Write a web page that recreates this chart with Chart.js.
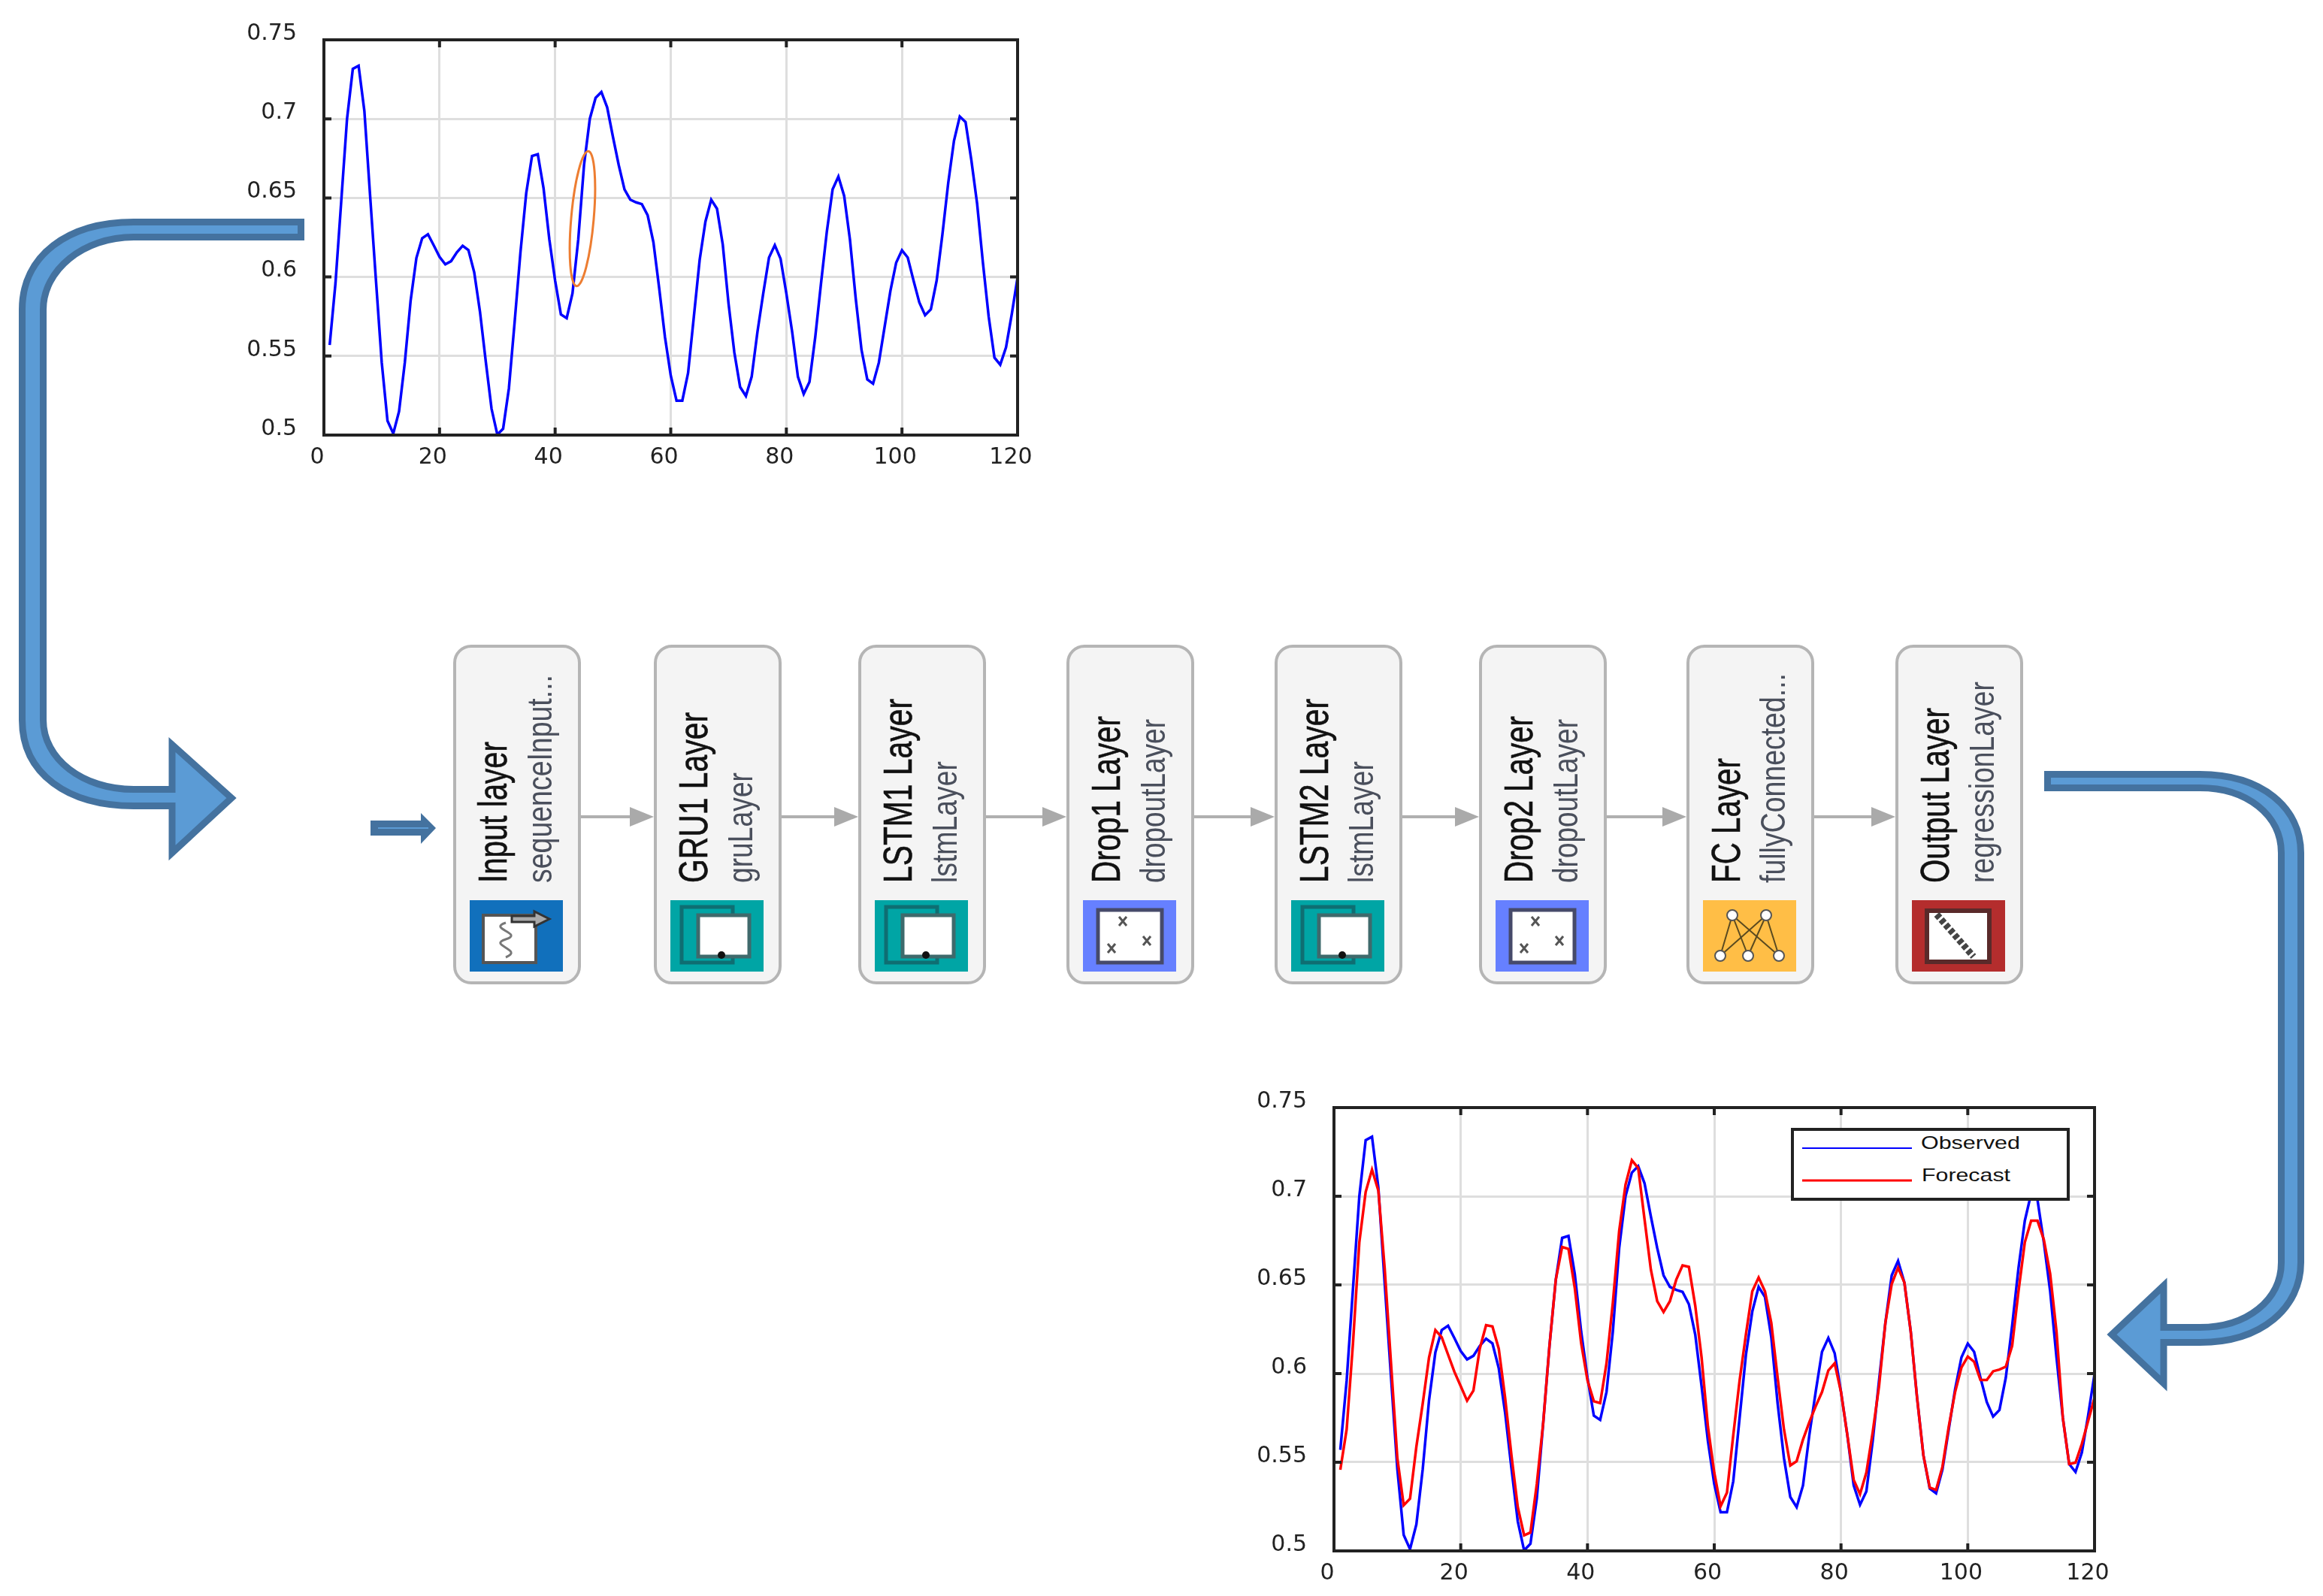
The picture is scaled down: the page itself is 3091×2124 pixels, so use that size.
<!DOCTYPE html>
<html>
<head>
<meta charset="utf-8">
<title>GRU-LSTM forecast</title>
<script src="https://cdn.jsdelivr.net/npm/chart.js@4"></script>
<style>
  html, body { margin: 0; padding: 0; background: #fff; }
  body { position: relative; width: 3091px; height: 2124px; overflow: hidden; }
  canvas { position: absolute; }
  #chartTop { left: 300px; top: 10px; }
  #chartBottom { left: 1640px; top: 1440px; }
  #overlay { position: absolute; left: 0; top: 0; }
</style>
</head>
<body>
<canvas id="chartTop" width="1100" height="650" style="width:1100px;height:650px"></canvas>
<canvas id="chartBottom" width="1200" height="684" style="width:1200px;height:684px"></canvas>
<svg id="overlay" width="3091" height="2124" xmlns="http://www.w3.org/2000/svg"></svg>
<script>
const xTickValues = [0, 20, 40, 60, 80, 100, 120];
const yTickValues = [0.5, 0.55, 0.6, 0.65, 0.7, 0.75];

const observed = [
  0.557, 0.596, 0.648, 0.700, 0.7316, 0.7336, 0.705, 0.651, 0.598, 0.546,
  0.509, 0.501, 0.515, 0.546, 0.585, 0.612, 0.6245, 0.627, 0.620, 0.6127,
  0.608, 0.610, 0.6156, 0.6197, 0.617, 0.603, 0.578, 0.5466, 0.5166, 0.5003,
  0.504, 0.5295, 0.5717, 0.6156, 0.653, 0.6765, 0.6776, 0.656, 0.6237, 0.5977,
  0.5763, 0.5739, 0.5896, 0.6237, 0.6708, 0.700, 0.7133, 0.717, 0.7073, 0.6886,
  0.6708, 0.6554, 0.6489, 0.6472, 0.6461, 0.6391, 0.622, 0.5929, 0.562, 0.5377,
  0.5218, 0.5218, 0.5393, 0.575, 0.6107, 0.635, 0.6489, 0.6432, 0.6205, 0.5831,
  0.5523, 0.5304, 0.5247, 0.5369, 0.5653, 0.5896, 0.6123, 0.6201, 0.6115, 0.5896,
  0.5653, 0.5369, 0.526, 0.5336, 0.562, 0.5961, 0.6286, 0.6554, 0.6635, 0.6513,
  0.6237, 0.5864, 0.5539, 0.5352, 0.5325, 0.5458, 0.5685, 0.5912, 0.6091, 0.6169,
  0.6123, 0.5977, 0.5839, 0.5758, 0.5795, 0.5977, 0.627, 0.6594, 0.6862, 0.7015,
  0.698, 0.674, 0.6464, 0.6091, 0.575, 0.549, 0.5445, 0.5555, 0.5766, 0.5998
];
const forecast = [
  0.5458, 0.5685, 0.6172, 0.674, 0.7024, 0.715, 0.7032, 0.6594, 0.6058, 0.5523,
  0.5258, 0.5295, 0.5588, 0.5831, 0.6091, 0.6245, 0.6205, 0.6107, 0.601, 0.5929,
  0.5847, 0.5904, 0.614, 0.6273, 0.6266, 0.614, 0.5864, 0.5539, 0.5247, 0.5088,
  0.5104, 0.5377, 0.5717, 0.6156, 0.653, 0.6714, 0.6703, 0.6481, 0.6172, 0.5961,
  0.5844, 0.5834, 0.6058, 0.64, 0.6805, 0.7065, 0.7203, 0.7159, 0.687, 0.6586,
  0.6408, 0.6347, 0.6408, 0.6529, 0.661, 0.6602, 0.6383, 0.6091, 0.5701, 0.5442,
  0.5252, 0.5328, 0.5653, 0.5961, 0.6221, 0.6464, 0.6542, 0.6464, 0.6286, 0.5977,
  0.5685, 0.5482, 0.5506, 0.5628, 0.5726, 0.5815, 0.5896, 0.6018, 0.6058, 0.5896,
  0.5653, 0.5401, 0.532, 0.5442, 0.5669, 0.5929, 0.6286, 0.6505, 0.6597, 0.6513,
  0.6237, 0.5864, 0.5539, 0.5357, 0.5344, 0.5474, 0.5701, 0.5896, 0.6034, 0.6096,
  0.6067, 0.5964, 0.5964, 0.6013, 0.6023, 0.6039, 0.6156, 0.6464, 0.674, 0.6862,
  0.6862, 0.6756, 0.6562, 0.6237, 0.575, 0.549, 0.5498, 0.5604, 0.5734, 0.5864
];

const layerNames = ['Input layer', 'GRU1 Layer', 'LSTM1 Layer', 'Drop1 Layer', 'LSTM2 Layer', 'Drop2 Layer', 'FC Layer', 'Output Layer'];
const layerTypes = ['sequenceInput...', 'gruLayer', 'lstmLayer', 'dropoutLayer', 'lstmLayer', 'dropoutLayer', 'fullyConnected...', 'regressionLayer'];

// layout
const blockLefts = [603, 870, 1142, 1419, 1696, 1968, 2244, 2522];
const nameLengths = [188, 227, 245, 222, 245, 222, 166, 233];
const typeLengths = [277, 147, 162, 218, 162, 218, 279, 268];
const iconKinds = ['input', 'gru', 'gru', 'drop', 'gru', 'drop', 'fc', 'out'];
const iconColors = { input: '#1170bc', gru: '#00a5a5', drop: '#6680ff', fc: '#ffbe46', out: '#b42d2d' };

const frameColor = '#222222';
const gridColor = '#dedede';

// box and inward ticks on all four sides, like MATLAB's axes
const framePlugin = {
  id: 'frame',
  afterDraw(chart) {
    const { ctx, chartArea: a, scales } = chart;
    ctx.save();
    ctx.strokeStyle = frameColor;
    ctx.lineWidth = 4;
    ctx.strokeRect(a.left, a.top, a.right - a.left, a.bottom - a.top);
    ctx.beginPath();
    yTickValues.forEach(v => {
      const y = scales.y.getPixelForValue(v);
      ctx.moveTo(a.left, y); ctx.lineTo(a.left + 10, y);
      ctx.moveTo(a.right, y); ctx.lineTo(a.right - 10, y);
    });
    xTickValues.forEach(v => {
      const x = scales.x.getPixelForValue(v);
      ctx.moveTo(x, a.bottom); ctx.lineTo(x, a.bottom - 10);
      ctx.moveTo(x, a.top); ctx.lineTo(x, a.top + 10);
    });
    ctx.stroke();
    ctx.restore();
  }
};

function toPoints(values) {
  return values.map((y, i) => ({ x: i + 1, y }));
}

function makeChart(id, datasets, box) {
  const tickFont = { family: '"DejaVu Sans"', size: 30 };
  return new Chart(document.getElementById(id), {
    type: 'line',
    data: { datasets },
    plugins: [framePlugin],
    options: {
      responsive: false,
      animation: false,
      devicePixelRatio: 1,
      layout: { padding: { top: box.top, right: box.right, left: 0, bottom: 0 } },
      plugins: { legend: { display: false }, tooltip: { enabled: false } },
      elements: { point: { radius: 0 }, line: { tension: 0, borderWidth: 3.5 } },
      scales: {
        x: {
          type: 'linear',
          min: 0,
          max: 120,
          afterBuildTicks: s => { s.ticks = xTickValues.map(value => ({ value })); },
          afterFit: s => { s.height = box.bottom; },
          border: { display: false },
          grid: { color: gridColor, lineWidth: 3, tickLength: 12, tickColor: 'transparent' },
          ticks: { color: frameColor, font: tickFont, padding: 0, labelOffset: -9, maxRotation: 0, autoSkip: false }
        },
        y: {
          min: 0.5,
          max: 0.75,
          afterBuildTicks: s => { s.ticks = yTickValues.map(value => ({ value })); },
          afterFit: s => { s.width = box.left; },
          border: { display: false },
          // long transparent tick keeps the labels away from the axis
          // (ticks.padding would also push the plot area down)
          grid: { color: gridColor, lineWidth: 3, tickLength: 36, tickColor: 'transparent' },
          ticks: { color: frameColor, font: tickFont, padding: 0, labelOffset: -8, autoSkip: false, callback: v => String(v) }
        }
      }
    }
  });
}

makeChart('chartTop', [
  { label: 'Observed', data: toPoints(observed), borderColor: '#0000ff' }
], { left: 131, top: 43, right: 46, bottom: 81 });

makeChart('chartBottom', [
  { label: 'Observed', data: toPoints(observed), borderColor: '#0000ff', order: 2 },
  { label: 'Forecast', data: toPoints(forecast), borderColor: '#ff0000', order: 1 }
], { left: 135, top: 34, right: 53, bottom: 60 });

// everything around the charts goes in one svg overlay
const svg = document.getElementById('overlay');
const NS = 'http://www.w3.org/2000/svg';

function add(tag, attrs, text) {
  const el = document.createElementNS(NS, tag);
  Object.entries(attrs).forEach(([k, v]) => el.setAttribute(k, v));
  if (text) el.textContent = text;
  svg.appendChild(el);
  return el;
}

const arrowLine = '#44729f';
const arrowFill = '#5b9bd5';
const bigArrow = { fill: arrowFill, stroke: arrowLine, 'stroke-width': 9, 'stroke-linejoin': 'miter' };

add('path', { ...bigArrow, d: 'M400.5 295.5 L178 295.5 C90 295.5 29.5 340 29.5 412 L29.5 958 C29.5 1030 90 1072.5 178 1072.5 L229 1072.5 L229 1135 L308 1062 L229 991 L229 1050.5 L178 1050.5 C110 1050.5 57.5 1010 57.5 958 L57.5 412 C57.5 360 110 315.5 178 315.5 L400.5 315.5 Z' });
add('path', { ...bigArrow, d: 'M2724.5 1030.5 L2927 1030.5 C3010 1030.5 3061.5 1075 3061.5 1135 L3061.5 1680 C3061.5 1740 3010 1786.5 2927 1786.5 L2879 1786.5 L2879 1841 L2810 1776 L2879 1711 L2879 1766.5 L2927 1766.5 C2990 1766.5 3035.5 1730 3035.5 1680 L3035.5 1135 C3035.5 1085 2990 1048.5 2927 1048.5 L2724.5 1048.5 Z' });
add('path', { fill: arrowLine, d: 'M493 1092 L560 1092 L560 1082 L580 1102 L560 1123 L560 1112 L493 1112 Z' });
add('line', { x1: 503, y1: 1102, x2: 570, y2: 1102, stroke: arrowFill, 'stroke-width': 2 });

add('ellipse', { cx: 775, cy: 291, rx: 15, ry: 90, transform: 'rotate(5 775 291)', fill: 'none', stroke: '#ed7d31', 'stroke-width': 3 });

// legend of the lower chart
add('rect', { x: 2385, y: 1503, width: 367, height: 93, fill: '#fff', stroke: frameColor, 'stroke-width': 4 });
add('line', { x1: 2398, y1: 1528, x2: 2544, y2: 1528, stroke: '#0000ff', 'stroke-width': 2 });
add('line', { x1: 2398, y1: 1571, x2: 2544, y2: 1571, stroke: '#ff0000', 'stroke-width': 3 });
const legendText = { 'font-family': 'Liberation Sans', 'font-size': 24, fill: '#111', lengthAdjust: 'spacingAndGlyphs' };
add('text', { ...legendText, x: 2556, y: 1529, textLength: 132 }, 'Observed');
add('text', { ...legendText, x: 2557, y: 1572, textLength: 118 }, 'Forecast');

function drawIcon(kind, left) {
  add('rect', { x: left, y: 1198, width: 124, height: 95, fill: iconColors[kind] });
  if (kind === 'input') {
    add('rect', { x: left + 18, y: 1218, width: 70, height: 63, fill: '#fff', stroke: '#555', 'stroke-width': 4 });
    add('path', { d: `M${left + 48} 1228 c-25 8 25 14 0 22 c-25 8 25 14 0 24`, fill: 'none', stroke: '#777', 'stroke-width': 3 });
    add('path', { d: `M${left + 56} 1219 h30 v-6 l20 10 l-20 10 v-6 h-30 Z`, fill: '#aaa', stroke: '#333', 'stroke-width': 3 });
  } else if (kind === 'gru') {
    add('rect', { x: left + 15, y: 1207, width: 68, height: 74, fill: 'none', stroke: '#0f6e72', 'stroke-width': 5 });
    add('rect', { x: left + 37, y: 1218, width: 68, height: 55, fill: '#fff', stroke: '#3f6a6c', 'stroke-width': 5 });
    add('circle', { cx: left + 68, cy: 1271, r: 5, fill: '#111' });
  } else if (kind === 'drop') {
    add('rect', { x: left + 20, y: 1211, width: 85, height: 70, fill: '#fff', stroke: '#464a6a', 'stroke-width': 5 });
    [[53, 1226], [85, 1252], [38, 1262]].forEach(([dx, y]) => {
      add('path', { d: `M${left + dx - 5} ${y - 6} l10 12 m0 -12 l-10 12`, stroke: '#555', 'stroke-width': 3, fill: 'none' });
    });
  } else if (kind === 'fc') {
    const tops = [39, 84];
    const bottoms = [23, 60, 101];
    tops.forEach(t => bottoms.forEach(b => {
      add('line', { x1: left + t, y1: 1218, x2: left + b, y2: 1272, stroke: '#5a4a20', 'stroke-width': 2 });
    }));
    tops.forEach(t => add('circle', { cx: left + t, cy: 1218, r: 7, fill: '#fff', stroke: '#555', 'stroke-width': 2 }));
    bottoms.forEach(b => add('circle', { cx: left + b, cy: 1272, r: 7, fill: '#fff', stroke: '#555', 'stroke-width': 2 }));
  } else {
    add('rect', { x: left + 20, y: 1212, width: 83, height: 68, fill: '#fff', stroke: '#5a2a2a', 'stroke-width': 6 });
    add('line', { x1: left + 33, y1: 1217, x2: left + 82, y2: 1273, stroke: '#444', 'stroke-width': 9, 'stroke-dasharray': '6 3' });
  }
}

layerNames.forEach((name, i) => {
  const left = blockLefts[i];
  add('rect', { x: left + 2, y: 860, width: 166, height: 448, rx: 22, fill: '#f4f4f4', stroke: '#b5b5b5', 'stroke-width': 4 });
  add('text', {
    transform: `translate(${left + 71} 1175) rotate(-90)`,
    'font-family': 'Liberation Sans', 'font-size': 53, fill: '#111', stroke: '#111', 'stroke-width': 0.6,
    textLength: nameLengths[i], lengthAdjust: 'spacingAndGlyphs'
  }, name);
  add('text', {
    transform: `translate(${left + 131} 1175) rotate(-90)`,
    'font-family': 'Liberation Sans', 'font-size': 47, fill: '#4a4f5c',
    textLength: typeLengths[i], lengthAdjust: 'spacingAndGlyphs'
  }, layerTypes[i]);
  drawIcon(iconKinds[i], left + 22);
  if (i < layerNames.length - 1) {
    const from = left + 170;
    const to = blockLefts[i + 1];
    add('line', { x1: from, y1: 1087, x2: to - 30, y2: 1087, stroke: '#b0b0b0', 'stroke-width': 4 });
    add('path', { d: `M${to - 32} 1074 L${to} 1087 L${to - 32} 1100 Z`, fill: '#aaaaaa' });
  }
});
</script>
</body>
</html>
